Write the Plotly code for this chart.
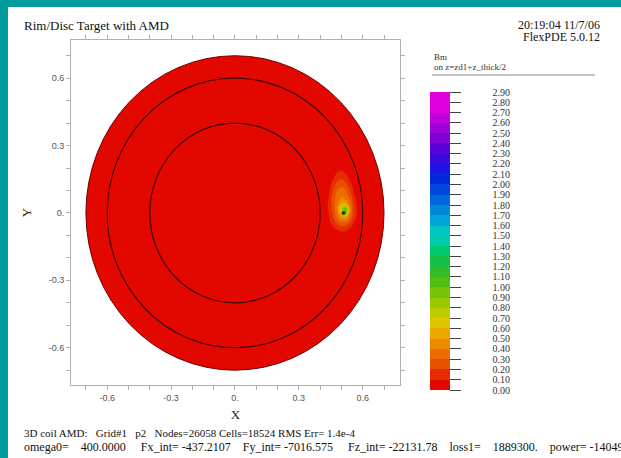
import plotly.graph_objects as go

# ---------------- data ----------------
disc_radius = 0.70
ring_radii = [0.40, 0.60]

level_values = [0.0, 0.1, 0.2, 0.3, 0.4, 0.5, 0.6, 0.7, 0.8, 0.9,
                1.0, 1.1, 1.2, 1.3, 1.4, 1.5, 1.6, 1.7, 1.8, 1.9,
                2.0, 2.1, 2.2, 2.3, 2.4, 2.5, 2.6, 2.7, 2.8, 2.9]
level_labels = ["0.00", "0.10", "0.20", "0.30", "0.40", "0.50", "0.60", "0.70", "0.80", "0.90",
                "1.00", "1.10", "1.20", "1.30", "1.40", "1.50", "1.60", "1.70", "1.80", "1.90",
                "2.00", "2.10", "2.20", "2.30", "2.40", "2.50", "2.60", "2.70", "2.80", "2.90"]

# FlexPDE palette, one colour per 0.1 band (bottom -> top)
band_colors = [
    "rgb(226,8,0)", "rgb(230,45,0)", "rgb(234,78,0)", "rgb(236,108,0)", "rgb(237,138,0)",
    "rgb(236,168,0)", "rgb(222,198,0)", "rgb(188,204,0)", "rgb(152,200,0)", "rgb(115,196,8)",
    "rgb(82,190,20)", "rgb(52,188,40)", "rgb(22,192,72)", "rgb(0,200,112)", "rgb(0,204,142)",
    "rgb(0,204,172)", "rgb(0,196,200)", "rgb(0,165,214)", "rgb(0,135,216)", "rgb(0,105,218)",
    "rgb(0,72,220)", "rgb(0,42,222)", "rgb(28,20,226)", "rgb(60,8,222)", "rgb(92,0,218)",
    "rgb(128,0,216)", "rgb(160,0,216)", "rgb(190,0,220)", "rgb(222,0,222)",
]

# Bm field around the hot spot (rows: y ascending, columns: x ascending)
hot_x = [0.42, 0.44, 0.46, 0.48, 0.50, 0.52, 0.54, 0.56, 0.58]
hot_y = [-0.10, -0.08, -0.06, -0.04, -0.02, 0.00, 0.02, 0.04, 0.06, 0.08,
         0.10, 0.12, 0.14, 0.16, 0.18, 0.20, 0.22]
hot_bm = [
    [0.05, 0.05, 0.05, 0.05, 0.05, 0.05, 0.05, 0.05, 0.05],
    [0.05, 0.05, 0.05, 0.08, 0.11, 0.10, 0.07, 0.05, 0.05],
    [0.05, 0.05, 0.10, 0.16, 0.20, 0.19, 0.13, 0.06, 0.05],
    [0.05, 0.07, 0.15, 0.25, 0.32, 0.33, 0.22, 0.10, 0.05],
    [0.05, 0.09, 0.19, 0.33, 0.45, 0.48, 0.33, 0.14, 0.05],
    [0.05, 0.10, 0.22, 0.38, 0.62, 0.95, 0.40, 0.17, 0.05],
    [0.05, 0.11, 0.24, 0.42, 0.78, 1.05, 0.42, 0.17, 0.05],
    [0.05, 0.11, 0.25, 0.40, 0.52, 0.55, 0.36, 0.15, 0.05],
    [0.05, 0.10, 0.25, 0.37, 0.42, 0.40, 0.30, 0.13, 0.05],
    [0.05, 0.09, 0.23, 0.34, 0.38, 0.35, 0.25, 0.10, 0.05],
    [0.05, 0.07, 0.20, 0.31, 0.34, 0.31, 0.20, 0.07, 0.05],
    [0.05, 0.06, 0.16, 0.26, 0.29, 0.25, 0.15, 0.06, 0.05],
    [0.05, 0.05, 0.12, 0.20, 0.23, 0.19, 0.10, 0.05, 0.05],
    [0.05, 0.05, 0.08, 0.15, 0.17, 0.14, 0.07, 0.05, 0.05],
    [0.05, 0.05, 0.05, 0.10, 0.12, 0.09, 0.05, 0.05, 0.05],
    [0.05, 0.05, 0.05, 0.05, 0.07, 0.05, 0.05, 0.05, 0.05],
    [0.05, 0.05, 0.05, 0.05, 0.05, 0.05, 0.05, 0.05, 0.05],
]
peak_x = [0.51]
peak_y = [0.0]

x_tick_vals = [-0.6, -0.3, 0.0, 0.3, 0.6]
x_tick_text = ["-0.6", "-0.3", "0.", "0.3", "0.6"]
y_tick_vals = [-0.6, -0.3, 0.0, 0.3, 0.6]
y_tick_text = ["-0.6", "-0.3", "0.", "0.3", "0.6"]
minor_vals = [-0.7, -0.5, -0.4, -0.2, -0.1, 0.1, 0.2, 0.4, 0.5, 0.7]

title_text = "Rim/Disc Target with AMD"
stamp_lines = ["20:19:04 11/7/06", "FlexPDE 5.0.12"]
legend_lines = ["Bm", "on z=zd1+z_thick/2"]
G2 = "\u00a0" * 2 + " "
G3 = "\u00a0" * 3 + " "
G4 = "\u00a0" * 4 + " "
footer_lines = [
    "3D coil AMD:" + G2 + "Grid#1" + G2 + "p2" + G2 + "Nodes=26058 Cells=18524 RMS Err= 1.4e-4",
    "omega0=" + G3 + "400.0000" + G4 + "Fx_int= -437.2107" + G3 + "Fy_int= -7016.575" + G4
    + "Fz_int= -22131.78" + G3 + "loss1=" + G3 + "1889300." + G3 + "power= -140490.",
]

# ---------------- layout geometry (pixels) ----------------
W, H = 621, 458
L, R, T, B = 71, 400, 40, 385
TEAL = "#009c9c"
SERIF = "Liberation Serif"


def px(x):
    return (x - L) / (R - L)


def py(y):
    return (B - y) / (B - T)


n = len(band_colors)
colorscale = []
for i, c in enumerate(band_colors):
    colorscale.append([i / n, c])
    colorscale.append([(i + 1) / n, c])

fig = go.Figure()

fig.add_trace(go.Contour(
    x=hot_x, y=hot_y, z=hot_bm,
    zmin=level_values[0], zmax=level_values[-1], zauto=False,
    colorscale=colorscale,
    contours=dict(start=level_values[0], end=level_values[-1], size=0.1,
                  coloring="fill", showlines=False),
    line=dict(width=0),
    hoverinfo="skip",
    colorbar=dict(
        thickness=20, thicknessmode="pixels",
        len=298, lenmode="pixels",
        x=px(430), xanchor="left", xpad=0,
        y=py(390), yanchor="bottom", ypad=0,
        outlinewidth=0,
        tickmode="array", tickvals=level_values,
        ticktext=["\u00a0" * 12 + t for t in level_labels],
        ticks="outside", ticklen=11, tickwidth=1, tickcolor="#444",
        tickfont=dict(family=SERIF, size=10, color="#333"),
    ),
))

fig.add_trace(go.Scatter(
    x=peak_x, y=peak_y, mode="markers",
    marker=dict(size=4, color="rgb(40,60,20)"),
    hoverinfo="skip", showlegend=False,
))

shapes = []
# red disc
shapes.append(dict(type="circle", xref="x", yref="y", layer="below",
                   x0=-disc_radius, x1=disc_radius, y0=-disc_radius, y1=disc_radius,
                   fillcolor=band_colors[0], line=dict(color="rgb(110,0,0)", width=1)))
for r in ring_radii:
    shapes.append(dict(type="circle", xref="x", yref="y", layer="above",
                       x0=-r, x1=r, y0=-r, y1=r,
                       line=dict(color="rgb(70,0,0)", width=1.2)))
# teal frame of the screenshot (left and top only)
shapes.append(dict(type="rect", xref="paper", yref="paper", layer="above",
                   x0=px(0), x1=px(8), y0=py(H), y1=py(0),
                   fillcolor=TEAL, line=dict(width=0)))
shapes.append(dict(type="rect", xref="paper", yref="paper", layer="above",
                   x0=px(0), x1=px(W), y0=py(7), y1=py(0),
                   fillcolor=TEAL, line=dict(width=0)))
# line under the legend header
shapes.append(dict(type="line", xref="paper", yref="paper",
                   x0=px(432), x1=px(595), y0=py(75), y1=py(75),
                   line=dict(color="#888", width=1)))

annotations = [
    dict(text=title_text, x=px(22), y=py(25), xanchor="left", yanchor="middle",
         font=dict(family=SERIF, size=13, color="#111")),
    dict(text=stamp_lines[0], x=px(602), y=py(25), xanchor="right", yanchor="middle",
         font=dict(family=SERIF, size=12, color="#111")),
    dict(text=stamp_lines[1], x=px(602), y=py(37), xanchor="right", yanchor="middle",
         font=dict(family=SERIF, size=12, color="#111")),
    dict(text=legend_lines[0], x=px(432), y=py(57), xanchor="left", yanchor="middle",
         font=dict(family=SERIF, size=9, color="#333")),
    dict(text=legend_lines[1], x=px(432), y=py(67), xanchor="left", yanchor="middle",
         font=dict(family=SERIF, size=9, color="#333")),
    dict(text=footer_lines[0], x=px(22), y=py(433), xanchor="left", yanchor="middle",
         font=dict(family=SERIF, size=11, color="#111")),
    dict(text=footer_lines[1], x=px(22), y=py(447), xanchor="left", yanchor="middle",
         font=dict(family=SERIF, size=12, color="#111")),
]
for a in annotations:
    a.update(xref="paper", yref="paper", showarrow=False)

axis_common = dict(
    showgrid=False, zeroline=False,
    showline=True, linecolor="#b0b0b0", linewidth=1, mirror="ticks",
    ticks="outside", ticklen=4, tickcolor="#b0b0b0",
    tickfont=dict(family="Liberation Sans", size=9, color="#555"),
    minor=dict(tickvals=minor_vals, ticks="outside", ticklen=4, tickcolor="#b0b0b0"),
    tickmode="array",
)

fig.update_layout(
    width=W, height=H,
    margin=dict(l=L, r=W - R, t=T, b=H - B, pad=0),
    paper_bgcolor="white", plot_bgcolor="white",
    showlegend=False,
    shapes=shapes, annotations=annotations,
    xaxis=dict(axis_common, range=[-0.77, 0.775], tickvals=x_tick_vals, ticktext=x_tick_text,
               title=dict(text="X", standoff=8, font=dict(family=SERIF, size=13, color="#222"))),
    yaxis=dict(axis_common, range=[-0.766, 0.77], tickvals=y_tick_vals, ticktext=y_tick_text,
               title=dict(text="Y", standoff=14, font=dict(family=SERIF, size=13, color="#222"))),
)

fig.write_html(
    "out.html",
    config={"displayModeBar": False},
    post_script=(
        "document.documentElement.style.background='white';"
        "document.body.style.background='white';"
        "document.body.style.margin='0';document.body.style.overflow='hidden';"
    ),
)
